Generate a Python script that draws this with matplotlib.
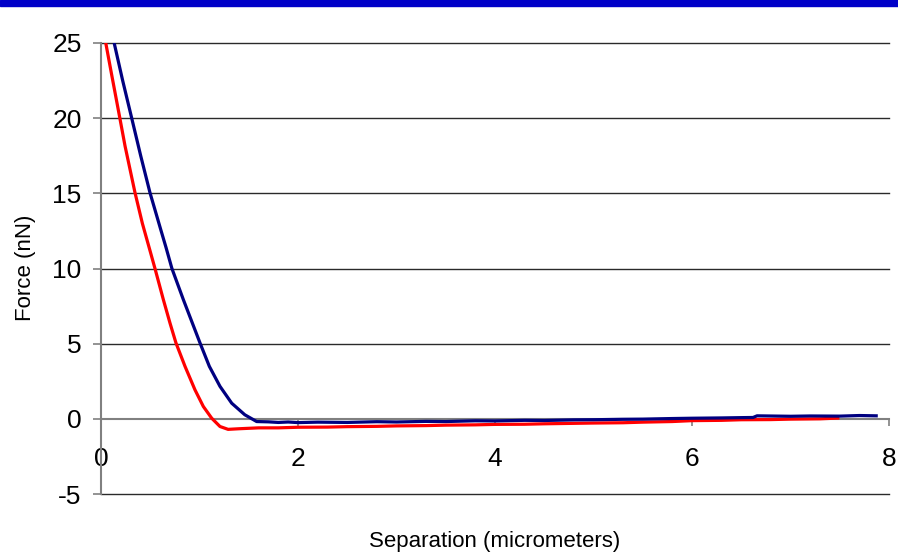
import matplotlib.pyplot as plt
from matplotlib.patches import Rectangle

# approach curve (blue) and retract curve (red): separation in micrometers, force in nN
approach_x = [0.132, 0.22, 0.31, 0.403, 0.497, 0.606, 0.66, 0.72, 0.836, 0.914,
              1.005, 1.10, 1.208, 1.327, 1.46, 1.58, 1.70, 1.80, 1.90, 2.00,
              2.20, 2.50, 2.80, 3.00, 3.30, 3.50, 3.80, 4.00, 4.30, 4.50,
              4.80, 5.00, 5.30, 5.50, 5.80, 6.00, 6.30, 6.50, 6.62, 6.66,
              7.00, 7.20, 7.50, 7.70, 7.87]
approach_f = [25.05, 22.5, 20.05, 17.5, 15.05, 12.6, 11.4, 10.0, 7.93, 6.6,
              5.05, 3.49, 2.16, 1.04, 0.27, -0.18, -0.2, -0.24, -0.21, -0.25,
              -0.22, -0.24, -0.19, -0.21, -0.17, -0.18, -0.13, -0.14, -0.1, -0.11,
              -0.07, -0.06, -0.03, -0.02, 0.02, 0.04, 0.06, 0.08, 0.09, 0.2,
              0.17, 0.19, 0.18, 0.22, 0.2]

retract_x = [0.047, 0.108, 0.19, 0.244, 0.345, 0.42, 0.497, 0.548, 0.633, 0.70,
             0.761, 0.853, 0.954, 1.039, 1.124, 1.208, 1.29, 1.40, 1.60, 1.80,
             2.00, 2.30, 2.50, 2.80, 3.00, 3.30, 3.50, 3.80, 4.00, 4.30,
             4.50, 4.80, 5.00, 5.30, 5.50, 5.80, 6.00, 6.30, 6.50, 6.80,
             7.00, 7.30, 7.48]
retract_f = [25.05, 22.9, 20.05, 18.15, 15.05, 13.0, 11.2, 10.0, 7.93, 6.38,
             5.05, 3.49, 1.93, 0.82, 0.04, -0.51, -0.7, -0.66, -0.6, -0.6,
             -0.56, -0.55, -0.52, -0.5, -0.47, -0.45, -0.42, -0.4, -0.37, -0.36,
             -0.33, -0.3, -0.28, -0.26, -0.22, -0.18, -0.12, -0.1, -0.06, -0.05,
             -0.02, 0.0, 0.05]

x_ticks = [0, 2, 4, 6, 8]
y_ticks = [-5, 0, 5, 10, 15, 20, 25]

plt.rcParams['font.family'] = ['Liberation Sans', 'DejaVu Sans']
plt.rcParams['axes.unicode_minus'] = False

fig = plt.figure(figsize=(8.98, 5.56), dpi=100)
ax = fig.add_axes([101 / 898, 1 - 494 / 556, 788 / 898, 451 / 556])

# banner strip along the top edge
fig.patches.append(Rectangle((0, 1 - 6 / 556), 1, 6 / 556, transform=fig.transFigure,
                             color='#0000c8', zorder=5))

for y in y_ticks:
    if y != 0:
        ax.axhline(y, color='#2a2a2a', lw=1.0, zorder=1, clip_on=False)

ax.plot(retract_x, retract_f, color='#ff0000', lw=2.3, zorder=3)
ax.plot(approach_x, approach_f, color='#000080', lw=2.3, zorder=4)

ax.set_xlim(0, 8)
ax.set_ylim(-5, 25)
ax.set_xticks(x_ticks)
ax.set_yticks(y_ticks)

for side in ['top', 'right']:
    ax.spines[side].set_visible(False)
ax.spines['left'].set_color('#808080')
ax.spines['left'].set_linewidth(1.5)
ax.spines['bottom'].set_position(('data', 0))
ax.spines['bottom'].set_color('#808080')
ax.spines['bottom'].set_linewidth(1.5)
ax.spines['bottom'].set_zorder(2)

ax.tick_params(axis='x', direction='out', length=5, width=1.2, color='#808080',
               pad=15, labelsize=19)
ax.tick_params(axis='y', direction='out', length=6, width=1.2, color='#808080',
               pad=8, labelsize=19)

fig.text(26 / 898, 1 - 268 / 556, 'Force (nN)', rotation=90, ha='center', va='center',
         fontsize=16)
fig.text(495 / 898, 1 - 541 / 556, 'Separation (micrometers)', ha='center', va='center',
         fontsize=16)

fig.savefig('out.png', dpi=100)
